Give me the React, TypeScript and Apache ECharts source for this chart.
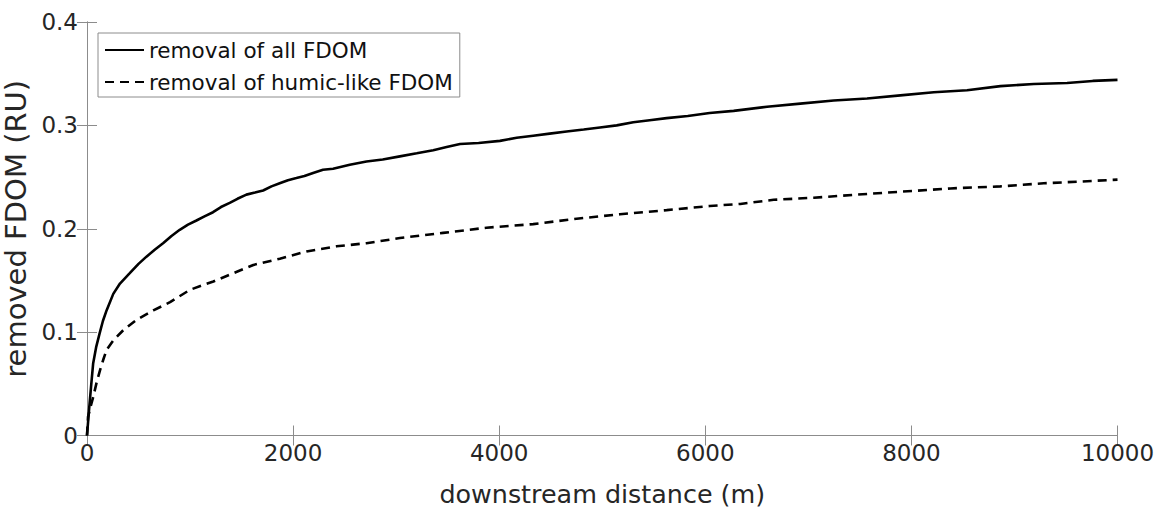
import React, { useEffect, useRef } from "react";
import * as echarts from "echarts";

const xTicksMax = 10000;
const yTicksMax = 0.4;

const allDist = [
  0, 20, 40, 60, 90, 123, 155, 190, 255, 320, 415, 500, 577, 660, 738, 820, 900, 980, 1062, 1140,
  1223, 1300, 1385, 1460, 1547, 1630, 1709, 1790, 1870, 1950, 2032, 2110, 2194, 2290, 2388, 2550,
  2712, 2870, 3036, 3200, 3360, 3490, 3620, 3800, 4007, 4170, 4330, 4490, 4654, 4820, 4978, 5140,
  5301, 5460, 5625, 5830, 6042, 6275, 6599, 6922, 7246, 7570, 7893, 8217, 8540, 8864, 9188, 9511,
  9760, 10000,
];
const allFDOM = [
  0, 0.025, 0.048, 0.07, 0.086, 0.099, 0.111, 0.121, 0.137, 0.147, 0.157, 0.166, 0.173, 0.18, 0.186,
  0.193, 0.199, 0.204, 0.208, 0.212, 0.216, 0.221, 0.225, 0.229, 0.233, 0.235, 0.237, 0.241, 0.244,
  0.247, 0.249, 0.251, 0.254, 0.257, 0.258, 0.262, 0.265, 0.267, 0.27, 0.273, 0.276, 0.279, 0.282,
  0.283, 0.285, 0.288, 0.29, 0.292, 0.294, 0.296, 0.298, 0.3, 0.303, 0.305, 0.307, 0.309, 0.312,
  0.314, 0.318, 0.321, 0.324, 0.326, 0.329, 0.332, 0.334, 0.338, 0.34, 0.341, 0.343, 0.344,
];

const humicDist = [
  0, 10, 35, 61, 95, 126, 160, 191, 256, 353, 483, 644, 806, 1000, 1226, 1420, 1614, 1871, 2130,
  2420, 2712, 3036, 3456, 3877, 4330, 4751, 5172, 5625, 6042, 6340, 6663, 7052, 7473, 7893, 8379,
  8864, 9284, 9608, 9899, 10000,
];
const humicFDOM = [
  0, 0.018, 0.028, 0.0375, 0.052, 0.063, 0.074, 0.083, 0.092, 0.102, 0.112, 0.121, 0.129, 0.141,
  0.149, 0.157, 0.165, 0.171, 0.178, 0.183, 0.186, 0.191, 0.196, 0.201, 0.2045, 0.2097, 0.214, 0.218,
  0.222, 0.224, 0.228, 0.23, 0.233, 0.2358, 0.239, 0.241, 0.244, 0.2455, 0.247, 0.2475,
];

const seriesNames = ["removal of all FDOM", "removal of humic-like FDOM"];

const FONT = "DejaVu Sans";
const AXIS_GRAY = "#8c8c8c";
const TEXT = "#262626";

export default function App() {
  const ref = useRef<HTMLDivElement>(null);
  useEffect(() => {
    if (!ref.current) return;
    const chart = echarts.init(ref.current, undefined, { renderer: "svg" });
    const axisCommon = {
      type: "value" as const,
      axisLine: { show: true, lineStyle: { color: AXIS_GRAY, width: 1 } },
      axisTick: { show: true, inside: true, length: 10, lineStyle: { color: AXIS_GRAY, width: 1 } },
      splitLine: { show: false },
    };
    chart.setOption({
      animation: false,
      backgroundColor: "#ffffff",
      grid: {
        left: 87,
        right: 40.5,
        top: 22,
        bottom: 73.5,
        containLabel: false,
        outerBoundsMode: "none",
      },
      legend: {
        orient: "vertical",
        left: 98,
        top: 33,
        itemWidth: 39,
        itemHeight: 14,
        itemGap: 10,
        padding: [6, 7, 4, 6],
        borderColor: "#8c8c8c",
        borderWidth: 1,
        backgroundColor: "#ffffff",
        itemStyle: { opacity: 0 },
        textStyle: { fontFamily: FONT, fontSize: 21.5, color: "#111" },
        data: seriesNames,
      },
      xAxis: [
        {
          ...axisCommon,
          position: "bottom",
          min: 0,
          max: xTicksMax,
          interval: 2000,
          axisLabel: {
            color: TEXT,
            fontFamily: FONT,
            fontSize: 23,
            margin: 6,
            formatter: (v: number) => String(v),
          },
          name: "downstream distance (m)",
          nameLocation: "middle",
          nameGap: 45.5,
          nameTextStyle: { fontFamily: FONT, fontSize: 25.4, color: TEXT },
        },
        {
          ...axisCommon,
          position: "top",
          min: 0,
          max: xTicksMax,
          interval: 2000,
          axisLabel: { show: false },
        },
      ],
      yAxis: [
        {
          ...axisCommon,
          position: "left",
          min: 0,
          max: yTicksMax,
          interval: 0.1,
          axisLabel: {
            color: TEXT,
            fontFamily: FONT,
            fontSize: 23,
            margin: 9,
            formatter: (v: number) => String(Math.round(v * 10) / 10),
          },
          name: "removed FDOM (RU)",
          nameLocation: "middle",
          nameGap: 42,
          nameRotate: 90,
          nameTextStyle: { fontFamily: FONT, fontSize: 29, color: TEXT },
        },
        {
          ...axisCommon,
          position: "right",
          min: 0,
          max: yTicksMax,
          interval: 0.1,
          axisLabel: { show: false },
        },
      ],
      series: [
        {
          name: seriesNames[0],
          type: "line",
          xAxisIndex: 0,
          yAxisIndex: 0,
          symbol: "none",
          lineStyle: { color: "#000", width: 2.6 },
          itemStyle: { color: "#000" },
          data: allDist.map((d, i) => [d, allFDOM[i]]),
        },
        {
          name: seriesNames[1],
          type: "line",
          xAxisIndex: 0,
          yAxisIndex: 0,
          symbol: "none",
          lineStyle: { color: "#000", width: 2.6, type: [9, 6] },
          itemStyle: { color: "#000" },
          data: humicDist.map((d, i) => [d, humicFDOM[i]]),
        },
      ],
    });
    return () => chart.dispose();
  }, []);
  return (
    <div
      ref={ref}
      style={{ position: "fixed", left: 0, top: 0, width: 1158, height: 509, background: "#fff" }}
    />
  );
}
